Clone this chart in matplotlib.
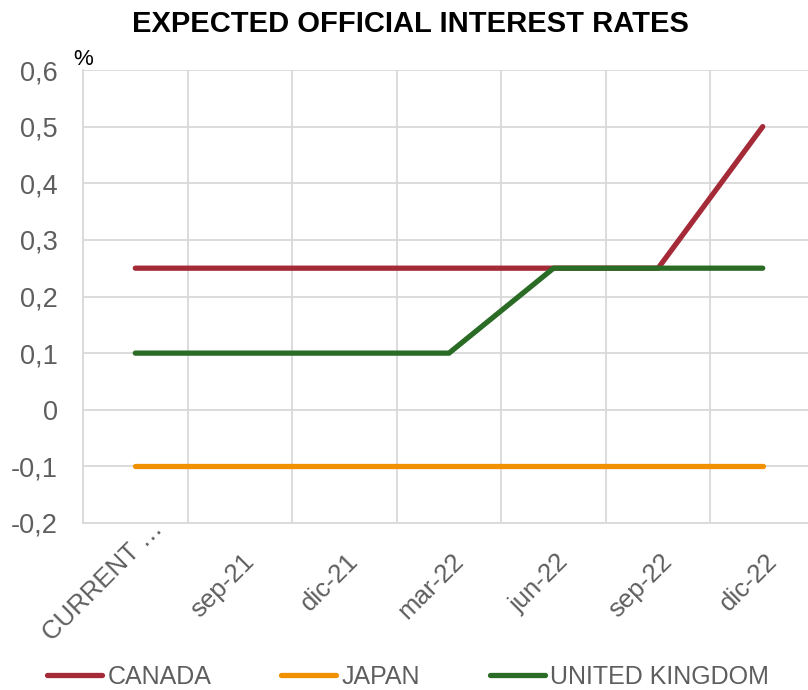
import matplotlib
matplotlib.use("Agg")
import matplotlib.pyplot as plt
import matplotlib.transforms as mtransforms
from matplotlib.ticker import FuncFormatter

plt.rcParams['font.family'] = ['Liberation Sans', 'DejaVu Sans']

categories = ['CURRENT …', 'sep-21', 'dic-21', 'mar-22', 'jun-22', 'sep-22', 'dic-22']
canada = [0.25, 0.25, 0.25, 0.25, 0.25, 0.25, 0.5]
japan = [-0.1, -0.1, -0.1, -0.1, -0.1, -0.1, -0.1]
uk = [0.1, 0.1, 0.1, 0.1, 0.25, 0.25, 0.25]

series = [('CANADA', canada, '#A52A37'),
          ('JAPAN', japan, '#F29100'),
          ('UNITED KINGDOM', uk, '#2A6B26')]

grey = '#5E5E5E'
gridc = '#D9D9D9'

fig = plt.figure(figsize=(8.08, 6.9), dpi=100)
ax = fig.add_axes([83 / 808, 1 - 523 / 690, 732 / 808, 453 / 690])

x = list(range(len(categories)))
for name, vals, col in series:
    ax.plot(x, vals, color=col, lw=3.8, solid_capstyle='round', label=name)

ax.set_xlim(-0.5, len(categories) - 0.5)
ax.set_ylim(-0.2, 0.6)
ax.set_yticks([-0.2, -0.1, 0, 0.1, 0.2, 0.3, 0.4, 0.5, 0.6])
ax.yaxis.set_major_formatter(FuncFormatter(lambda v, p: ('%g' % round(v, 1)).replace('.', ',')))
ax.set_xticks(x)
ax.set_xticklabels(categories, rotation=45, ha='right', va='top', rotation_mode='anchor')
ax.set_xticks([i + 0.5 for i in range(-1, len(categories))], minor=True)

ax.grid(False)
ax.grid(True, which='minor', axis='x', color=gridc, lw=1.3)
ax.grid(True, which='major', axis='y', color=gridc, lw=1.3)
ax.set_axisbelow(True)
for s in ['top', 'right']:
    ax.spines[s].set_visible(False)
for s in ['left', 'bottom']:
    ax.spines[s].set_color(gridc)
    ax.spines[s].set_linewidth(1.3)

ax.tick_params(axis='both', which='both', length=0, labelcolor=grey)
ax.tick_params(axis='y', pad=18, labelsize=19.5)
ax.tick_params(axis='x', pad=19, labelsize=18.5)
for i, lab in enumerate(ax.get_xticklabels()):
    dx = 2 if i else 15   # truncated label: "…" hangs past the anchor
    dy = 0 if i else 33
    shift = mtransforms.ScaledTranslation(dx / 100, dy / 100, fig.dpi_scale_trans)
    lab.set_transform(lab.get_transform() + shift)

ax.text(0.0, 1.0, '%', transform=ax.transAxes, fontsize=16, ha='center', va='bottom', color='black')

fig.text(410 / 808, 1 - 24 / 690, 'EXPECTED OFFICIAL INTEREST RATES', ha='center', va='center',
         fontsize=21, fontweight='bold', color='black')

leg = fig.legend(loc='center', bbox_to_anchor=(408 / 808, 1 - 677 / 690), ncol=3, frameon=False,
                 fontsize=18, handlelength=2.2, handletextpad=0.2, columnspacing=2.8,
                 borderpad=0.1)
for t in leg.get_texts():
    t.set_color(grey)

fig.savefig('out.png', dpi=100)
